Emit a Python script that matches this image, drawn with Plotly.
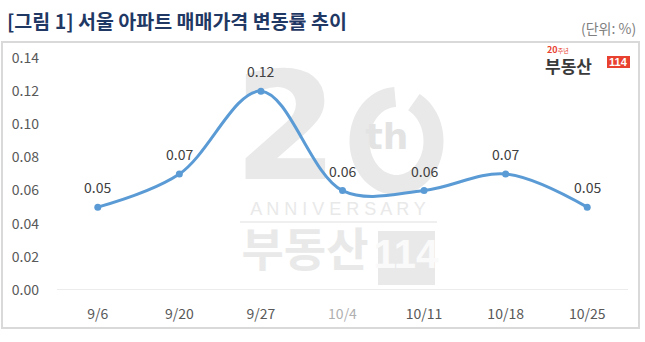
import math
import plotly.graph_objects as go

# Weekly change in Seoul apartment sale prices (%)
weeks = ["9/6", "9/20", "9/27", "10/4", "10/11", "10/18", "10/25"]
change = [0.05, 0.07, 0.12, 0.06, 0.06, 0.07, 0.05]
y_ticks = [0.00, 0.02, 0.04, 0.06, 0.08, 0.10, 0.12, 0.14]

W, H = 645, 342
L, R, T, B = 57, 17, 58, 52
pw, ph = W - L - R, H - T - B

KR = "Noto Sans CJK KR"
WM = "#E9E9E9"

xs = list(range(len(weeks)))


def px_x(p):
    # pixel column -> x data coordinate (linear axis spanning -0.5 .. n-0.5)
    return -0.5 + (p - L) / pw * len(weeks)


def px_y(p):
    return (H - B - p) / ph * 0.14


def pp_x(p):
    return (p - L) / pw


def pp_y(p):
    return (H - B - p) / ph


fig = go.Figure()

# background "20th ANNIVERSARY 부동산114" mark
wm_text = [
    dict(t="<b>2</b>", x=286, y=141, s=150, f="DejaVu Sans", c=WM),
    dict(t="<b>th</b>", x=387, y=140, s=36, f="DejaVu Sans", c="#E3E3E3"),
    dict(t="A N N I V E R S A R Y", x=338, y=210, s=18, f="Arial", c=WM),
    dict(t="<b>부동산</b>", x=305, y=254, s=46, f=KR, c=WM),
    dict(t="<b>114</b>", x=406, y=258, s=40, f="Liberation Sans Narrow, Arial", c="#FAFAFA"),
]
for w in wm_text:
    fig.add_trace(go.Scatter(
        x=[px_x(w["x"])], y=[px_y(w["y"])], mode="text", text=[w["t"]],
        textposition="middle center",
        textfont=dict(family=w["f"], size=w["s"], color=w["c"]),
        hoverinfo="skip", showlegend=False, cliponaxis=False))

# open ring forming the "0"
cx, cy, rx, ry = 396.5, 141, 37, 44
pts = []
for k in range(0, 67):
    a = math.radians(92 + k * 5)
    pts.append((px_x(cx + rx * math.cos(a)), px_y(cy - ry * math.sin(a))))
ring_path = "M " + " L ".join(f"{x:.5f},{y:.6f}" for x, y in pts)

# main series
fig.add_trace(go.Scatter(
    x=xs, y=change, mode="lines+markers",
    line=dict(color="#5B9BD5", width=3, shape="spline", smoothing=1.0),
    marker=dict(color="#5B9BD5", size=7),
    showlegend=False, cliponaxis=False))

value_labels = [
    dict(x=xi, y=v, text=f"{v:.2f}", xref="x", yref="y", showarrow=False,
         yanchor="bottom", yshift=8, font=dict(family=KR, size=14, color="#404040"))
    for xi, v in zip(xs, change)
]

tick_text = [f"<span style='color:#B0B0B0'>{w}</span>" if w == "10/4" else w for w in weeks]

fig.update_layout(
    width=W, height=H,
    margin=dict(l=L, r=R, t=T, b=B),
    paper_bgcolor="white", plot_bgcolor="rgba(0,0,0,0)",
    font=dict(family=KR, color="#595959"),
    xaxis=dict(range=[-0.5, len(weeks) - 0.5], tickvals=xs, ticktext=tick_text,
               showgrid=False, zeroline=False, showline=False, ticklabelstandoff=14,
               tickfont=dict(family=KR, size=14, color="#595959"), ticks=""),
    yaxis=dict(range=[0, 0.14], tickvals=y_ticks,
               ticktext=[f"{v:.2f}" for v in y_ticks],
               showgrid=False, zeroline=False, showline=False, ticklabelstandoff=17,
               tickfont=dict(family=KR, size=14, color="#595959"), ticks=""),
    shapes=[
        # outer chart frame
        dict(type="rect", xref="paper", yref="paper", layer="below",
             x0=pp_x(2), x1=pp_x(639), y0=pp_y(328), y1=pp_y(42),
             line=dict(color="#D9D9D9", width=2), fillcolor="white"),
        dict(type="path", xref="x", yref="y", layer="below", path=ring_path,
             line=dict(color=WM, width=20)),
        # "114" block of the background mark
        dict(type="rect", xref="x", yref="y", layer="below",
             x0=px_x(378), x1=px_x(435), y0=px_y(285), y1=px_y(231),
             line=dict(width=0), fillcolor=WM),
        # rule under ANNIVERSARY
        dict(type="line", xref="x", yref="y", layer="below",
             x0=px_x(240), x1=px_x(437), y0=px_y(222), y1=px_y(222),
             line=dict(color="#EFEFEF", width=2)),
        # baseline
        dict(type="line", xref="paper", yref="y", layer="above",
             x0=0, x1=1, y0=0, y1=0, line=dict(color="#D9D9D9", width=1)),
        # logo red block
        dict(type="rect", xref="paper", yref="paper", layer="above",
             x0=pp_x(607), x1=pp_x(630), y0=pp_y(68), y1=pp_y(56),
             line=dict(width=0), fillcolor="#E8412F"),
    ],
    annotations=value_labels + [
        dict(text="<b>[그림 1] 서울 아파트 매매가격 변동률 추이</b>", xref="paper", yref="paper",
             x=pp_x(5), y=pp_y(20), xanchor="left", yanchor="middle",
             showarrow=False, font=dict(family=KR, size=19.5, color="#1F3864")),
        dict(text="(단위: %)", xref="paper", yref="paper",
             x=pp_x(638), y=pp_y(28), xanchor="right", yanchor="middle",
             showarrow=False, font=dict(family=KR, size=14, color="#7F7F7F")),
        dict(text="<b>20</b><span style='font-size:6px'>주년</span>", xref="paper", yref="paper",
             x=pp_x(545), y=pp_y(50), xanchor="left", yanchor="middle",
             showarrow=False, font=dict(family=KR, size=9, color="#E8412F")),
        dict(text="<b>부동산</b>", xref="paper", yref="paper",
             x=pp_x(543), y=pp_y(65), xanchor="left", yanchor="middle",
             showarrow=False, font=dict(family=KR, size=17, color="#3A3A3A")),
        dict(text="<b>114</b>", xref="paper", yref="paper",
             x=pp_x(618.5), y=pp_y(62), xanchor="center", yanchor="middle",
             showarrow=False, font=dict(family="Liberation Sans Narrow, Arial", size=11, color="white")),
    ],
)

fig.write_html("out.html")
